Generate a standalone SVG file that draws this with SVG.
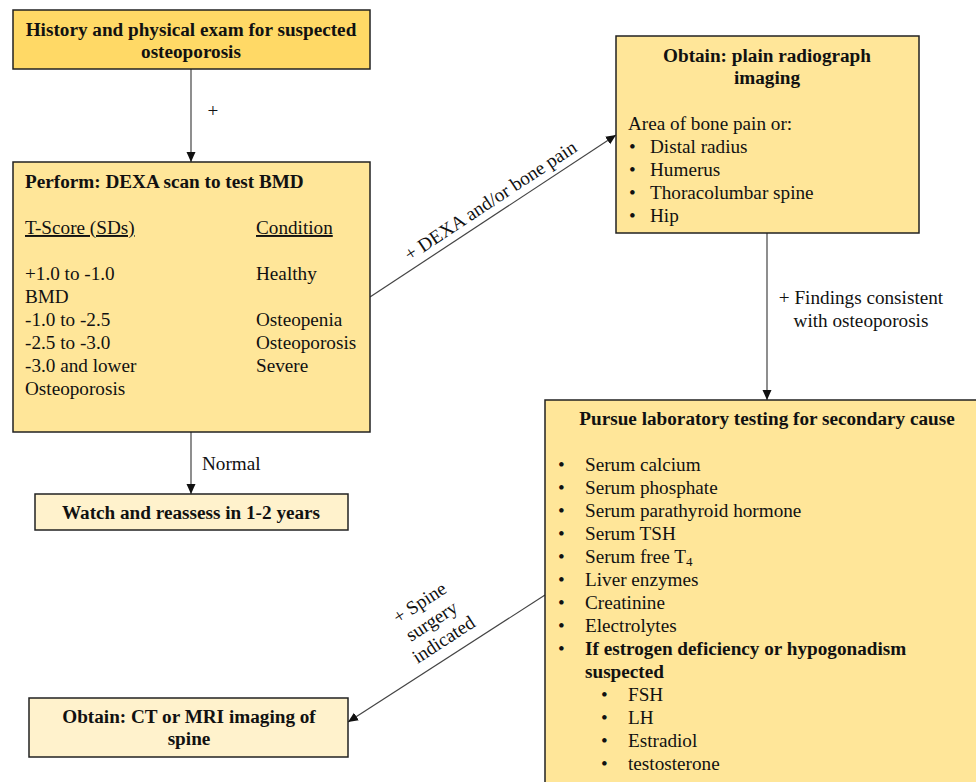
<svg xmlns="http://www.w3.org/2000/svg" width="976" height="782" viewBox="0 0 976 782">
<style>
text{font-family:"Liberation Serif","Times New Roman",serif;font-size:19.2px;fill:#111}
.b{font-weight:bold}
.c{text-anchor:middle}
.box{stroke:#222;stroke-width:1.5}
.dark{fill:#FFD966}
.mid{fill:#FFE699}
.light{fill:#FFF2CC}
.edge{stroke:#444;stroke-width:1.2;fill:none}
.u{text-decoration:underline}
</style>
<defs>
<marker id="ah" viewBox="0 0 10 10" refX="10" refY="5" markerWidth="10" markerHeight="10" markerUnits="userSpaceOnUse" orient="auto">
<path d="M0,0.5 L10,5 L0,9.5 z" fill="#111"/>
</marker>
</defs>
<rect width="976" height="782" fill="#fff"/>

<g id="connectors">
<line class="edge" x1="191" y1="69" x2="191" y2="162" marker-end="url(#ah)"/>
<text x="213" y="117" class="c">+</text>
<line class="edge" x1="191" y1="432" x2="191" y2="494" marker-end="url(#ah)"/>
<text x="202" y="470">Normal</text>
<line class="edge" x1="370" y1="297" x2="616" y2="135" marker-end="url(#ah)"/>
<text class="c" transform="translate(494,206) rotate(-33.4)">+ DEXA and/or bone pain</text>
<line class="edge" x1="767" y1="233" x2="767" y2="400" marker-end="url(#ah)"/>
<text x="861" y="304" class="c">+ Findings consistent</text>
<text x="861" y="327" class="c">with osteoporosis</text>
<line class="edge" x1="545" y1="595" x2="348" y2="722" marker-end="url(#ah)"/>
<g transform="translate(423,608) rotate(-33)">
<text x="0" y="0" class="c">+ Spine</text>
<text x="0" y="22" class="c">surgery</text>
<text x="0" y="44" class="c">indicated</text>
</g>
</g>

<g id="history">
<rect class="box dark" x="13" y="10" width="357" height="59"/>
<text x="191" y="36" class="b c">History and physical exam for suspected</text>
<text x="191" y="58" class="b c">osteoporosis</text>
</g>

<g id="dexa">
<rect class="box mid" x="13" y="162" width="357" height="270"/>
<text x="25" y="188" class="b">Perform: DEXA scan to test BMD</text>
<text x="25" y="234" class="u">T-Score (SDs)</text>
<text x="256" y="234" class="u">Condition</text>
<text x="25" y="280">+1.0 to -1.0</text>
<text x="25" y="303">BMD</text>
<text x="25" y="326">-1.0 to -2.5</text>
<text x="25" y="349">-2.5 to -3.0</text>
<text x="25" y="372">-3.0 and lower</text>
<text x="25" y="395">Osteoporosis</text>
<text x="256" y="280">Healthy</text>
<text x="256" y="326">Osteopenia</text>
<text x="256" y="349">Osteoporosis</text>
<text x="256" y="372">Severe</text>
</g>

<g id="watch">
<rect class="box light" x="35" y="494" width="313" height="36"/>
<text x="191" y="519" class="b c">Watch and reassess in 1-2 years</text>
</g>

<g id="radiograph">
<rect class="box mid" x="616" y="36" width="303" height="197"/>
<text x="767" y="62" class="b c">Obtain: plain radiograph</text>
<text x="767" y="84" class="b c">imaging</text>
<text x="628" y="130">Area of bone pain or:</text>
<text x="629" y="153">•</text><text x="650" y="153">Distal radius</text>
<text x="629" y="176">•</text><text x="650" y="176">Humerus</text>
<text x="629" y="199">•</text><text x="650" y="199">Thoracolumbar spine</text>
<text x="629" y="222">•</text><text x="650" y="222">Hip</text>
</g>

<g id="lab">
<rect class="box mid" x="545" y="400" width="445" height="400"/>
<text x="767" y="425" class="b c">Pursue laboratory testing for secondary cause</text>
<text x="558" y="471">•</text><text x="585" y="471">Serum calcium</text>
<text x="558" y="494">•</text><text x="585" y="494">Serum phosphate</text>
<text x="558" y="517">•</text><text x="585" y="517">Serum parathyroid hormone</text>
<text x="558" y="540">•</text><text x="585" y="540">Serum TSH</text>
<text x="558" y="563">•</text><text x="585" y="563">Serum free T<tspan font-size="13" dy="3">4</tspan></text>
<text x="558" y="586">•</text><text x="585" y="586">Liver enzymes</text>
<text x="558" y="609">•</text><text x="585" y="609">Creatinine</text>
<text x="558" y="632">•</text><text x="585" y="632">Electrolytes</text>
<text x="558" y="655">•</text><text x="585" y="655" class="b">If estrogen deficiency or hypogonadism</text>
<text x="585" y="678" class="b">suspected</text>
<text x="601" y="701">•</text><text x="628" y="701">FSH</text>
<text x="601" y="724">•</text><text x="628" y="724">LH</text>
<text x="601" y="747">•</text><text x="628" y="747">Estradiol</text>
<text x="601" y="770">•</text><text x="628" y="770">testosterone</text>
</g>

<g id="ctmri">
<rect class="box light" x="29" y="698" width="319" height="59"/>
<text x="189" y="723" class="b c">Obtain: CT or MRI imaging of</text>
<text x="189" y="745" class="b c">spine</text>
</g>
</svg>
